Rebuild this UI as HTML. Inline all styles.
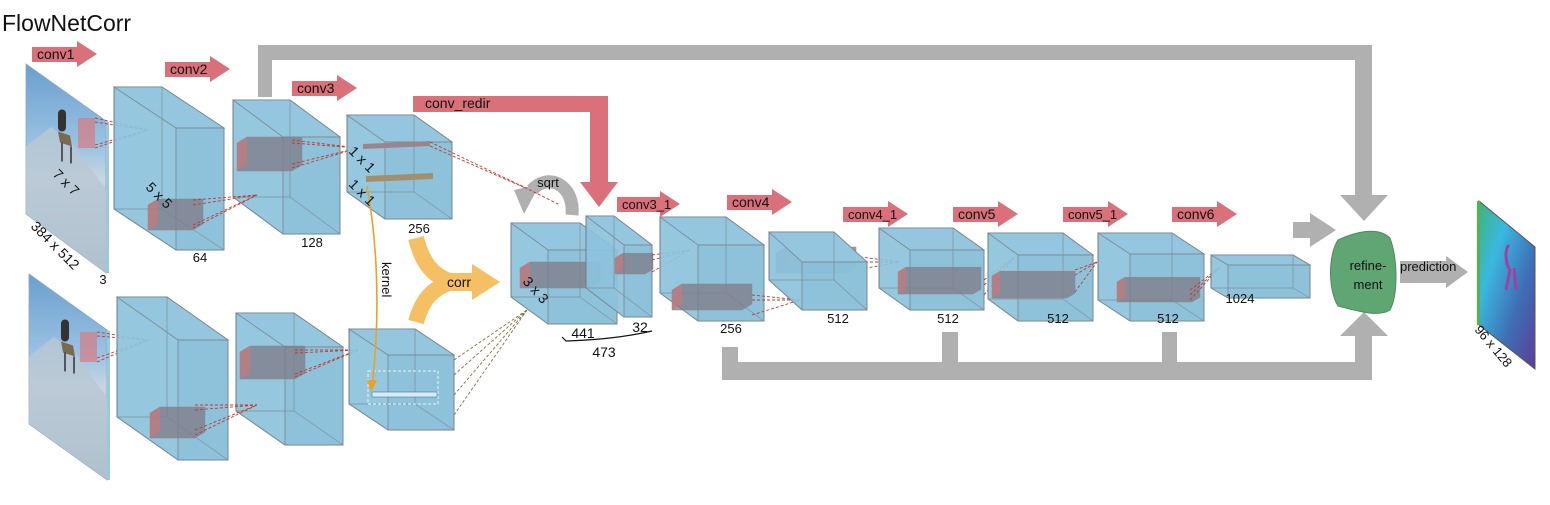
<!DOCTYPE html>
<html><head><meta charset="utf-8"><style>
html,body{margin:0;padding:0;background:#fff;}
svg{display:block;font-family:"Liberation Sans",Arial,sans-serif;}
</style></head><body>
<svg id="s" width="1550" height="505" viewBox="0 0 1550 505" xmlns="http://www.w3.org/2000/svg">
<defs>
<linearGradient id="img" x1="0" y1="0" x2="0" y2="1">
<stop offset="0" stop-color="#6a9fd0"/><stop offset="0.4" stop-color="#9cc3e3"/><stop offset="0.55" stop-color="#c8d6e0"/><stop offset="1" stop-color="#7f97a8"/></linearGradient>
<linearGradient id="flow" x1="0" y1="0" x2="1" y2="1">
<stop offset="0" stop-color="#3fb37a"/><stop offset="0.3" stop-color="#3ab8e0"/><stop offset="0.65" stop-color="#3e6fb5"/><stop offset="1" stop-color="#5a3e96"/></linearGradient>
</defs>
<text x="2" y="31" font-size="23" fill="#111">FlowNetCorr</text>
<g id="g"></g>
</svg>
<script>
var o='';
function cube(fx,fy,w,h,dx,dy){
 var bx=fx+dx,by=fy+dy;
 o+='<polygon points="'+[bx,by,bx+w,by,fx+w,fy,fx+w,fy+h,fx,fy+h,bx,by+h].join(',')+'" fill="#8cc2dc" fill-opacity="0.92" stroke="#6f7c84" stroke-width="1"/>';
 o+='<polygon points="'+[bx,by,bx+w,by,fx+w,fy,fx,fy].join(',')+'" fill="#94c7df" stroke="#7a868d" stroke-width="0.8"/>';
 o+='<rect x="'+fx+'" y="'+fy+'" width="'+w+'" height="'+h+'" fill="#88bdd7" fill-opacity="0.5" stroke="#7a868d" stroke-width="0.8"/>';
 o+='<path d="M'+bx+' '+by+'L'+fx+' '+fy+'M'+bx+' '+(by+h)+'L'+fx+' '+(fy+h)+'M'+(bx+w)+' '+by+'V'+(by+h)+'H'+bx+'M'+(bx+w)+' '+(by+h)+'L'+(fx+w)+' '+(fy+h)+'" stroke="#7f8f98" stroke-width="0.7" fill="none"/>';
}
function slab(x,y,w,h,d){
 o+='<polygon points="'+[x,y,x+d,y-d*0.6,x+d+w,y-d*0.6,x+d+w,y+h-d*0.6,x+w,y+h,x,y+h].join(',')+'" fill="#7f7a86" fill-opacity="0.75" stroke="#888" stroke-width="0.5"/>';
 o+='<polygon points="'+[x,y,x+d,y-d*0.6,x+d,y+h-d*0.6,x,y+h].join(',')+'" fill="#c07b80" fill-opacity="0.8"/>';
}
function dash(pts,tx,ty,c){for(var i=0;i<pts.length;i+=2)o+='<line x1="'+pts[i]+'" y1="'+pts[i+1]+'" x2="'+tx+'" y2="'+ty+'" stroke="'+(c||'#c0392b')+'" stroke-width="0.9" stroke-dasharray="3,2"/>';}
function rarrow(x,y,w,label,fs){
 o+='<polygon points="'+[x,y+2,x+w-20,y+2,x+w-20,y-4,x+w,y+9,x+w-20,y+22,x+w-20,y+17,x,y+17].join(',')+'" fill="#d9707a"/>';
 o+='<text x="'+(x+5)+'" y="'+(y+14)+'" font-size="'+(fs||14)+'" fill="#111">'+label+'</text>';
}
function txt(x,y,t,fs,rot,anch){o+='<text x="'+x+'" y="'+y+'" font-size="'+(fs||14)+'" fill="#111" text-anchor="'+(anch||'middle')+'"'+(rot?' transform="rotate('+rot+' '+x+' '+y+')"':'')+'>'+t+'</text>';}
var G='#b0b0b0';
o+='<path d="M258 97V45H1372V195H1388L1364 221L1340 195H1355V60H272V97Z" fill="'+G+'"/>';
o+='<path d="M722 380V347H738V362H942V332H958V362H1162V332H1177V362H1355V336H1340L1364 312L1388 336H1372V380Z" fill="'+G+'"/>';
function image(x1,y1,x2,y2,h1,h2){
 o+='<polygon points="'+[x1,y1,x2,y2,x2,y2+h2,x1,y1+h1].join(',')+'" fill="url(#img)" stroke="#8ab" stroke-width="0.8"/>';
 o+='<polygon points="'+[x2,y2,x2+3,y2+1,x2+3,y2+h2,x2,y2+h2].join(',')+'" fill="#9cc8de"/>';
 o+='<polygon points="'+[x1,y1+h1*0.55,x1+25,y1+h1*0.42,x1+45,y1+h1*0.52,x2,y2+h2*0.45,x2,y2+h2,x1,y1+h1].join(',')+'" fill="#b9c8d3" opacity="0.85"/>';
 var cx=x1+36,cy=y1+(h1*0.45);
 o+='<rect x="'+(cx-4)+'" y="'+(cy-22)+'" width="8" height="22" rx="4" fill="#333"/><polygon points="'+[cx-4,cy,cx+8,cy+4,cx+10,cy+15,cx-2,cy+11].join(',')+'" fill="#7a6a50"/><line x1="'+cx+'" y1="'+(cy+11)+'" x2="'+cx+'" y2="'+(cy+30)+'" stroke="#333" stroke-width="1.5"/><line x1="'+(cx+9)+'" y1="'+(cy+15)+'" x2="'+(cx+9)+'" y2="'+(cy+32)+'" stroke="#333" stroke-width="1.5"/>';
}
image(26,64,106,121,150,152);
image(29,274,107,330,150,150);
o+='<rect x="78" y="118" width="17" height="30" fill="#d97a80" fill-opacity="0.7"/>';
o+='<rect x="80" y="332" width="17" height="30" fill="#d97a80" fill-opacity="0.7"/>';
dash([95,118,95,122,95,145,95,148],148,130);
dash([97,332,97,336,97,358,97,362],148,340);
cube(176,128,48,122,-62,-41); slab(148,205,45,25,10);
cube(283,137,57,97,-50,-37); slab(237,143,55,28,10);
dash([193,200,193,205,193,225,193,228],257,195);
dash([292,140,292,143,292,164,292,168],358,148);
cube(385,142,67,77,-38,-27);
o+='<polygon points="363,144 430,141 430,146 363,149" fill="#9b858c"/><polygon points="366,176 433,173 433,179 366,182" fill="#a38f6e"/>';
dash([430,142,430,146],530,190);
cube(178,340,50,120,-61,-43); slab(150,413,45,25,10);
cube(285,347,58,98,-49,-34); slab(240,352,55,27,10);
dash([195,405,195,410,195,430,195,435],257,405);
dash([295,350,295,353,295,374,295,377],358,350);
cube(388,355,66,75,-39,-26);
o+='<rect x="368" y="371" width="70" height="33" fill="none" stroke="#e8f4fa" stroke-dasharray="3,2"/><rect x="372" y="392" width="65" height="5" fill="#dde8f0" stroke="#2e7fb0" stroke-width="0.6"/>';
dash([454,360,454,375,454,395,454,415],527,310,'#8a6d3b');
o+='<path d="M367 186 C375 230 382 300 372 388" stroke="#f0a020" stroke-width="1.6" fill="none"/><polygon points="367,380 377,380 371,392" fill="#f0a020"/>';
txt(382,262,'kernel',13,90,'start');
// corr
o+='<path d="M416 238 C422 262 432 276 452 282 M416 322 C422 300 432 288 452 282" stroke="#f5bf63" stroke-width="16" fill="none"/>';
o+='<path d="M448 273H472V264L500 282L472 300V291H448Z" fill="#f5bf63"/>';
txt(459,287,'corr',14);
cube(548,250,69,74,-37,-27); slab(520,268,70,20,10);
cube(624,245,28,72,-38,-29); slab(615,258,30,16,8);
dash([652,255,652,260,652,272],690,250);
txt(522,282,'3 x 3',14,48,'start');
o+='<path d="M562 337 L566 341 C600 340 630 336 652 331" stroke="#111" fill="none" stroke-width="1.2"/>';
txt(583,338,'441',14); txt(640,332,'32',14); txt(604,357,'473',14);
o+='<path d="M572 215 C575 185 548 172 532 190" stroke="'+G+'" stroke-width="13" fill="none"/><polygon points="514,190 540,184 524,214" fill="'+G+'"/>';
txt(548,187,'sqrt',13);
dash([520,185],560,205);
o+='<path d="M413 96H608V182H618L599 207L580 182H590V112H413Z" fill="#d9707a"/>';
o+='<text x="425" y="108" font-size="14" fill="#111">conv_redir</text>';
cube(698,245,66,76,-38,-28); slab(672,290,70,20,10); slab(776,253,70,20,10);
dash([752,295,752,300,752,315],800,300); dash([845,255,845,262,845,272],900,262);
cube(802,262,65,48,-33,-30);
cube(910,250,74,60,-31,-22); slab(898,272,75,22,8);
dash([984,280,984,285,984,295],1015,257);
cube(1018,255,75,66,-30,-22); slab(992,276,75,22,8);
dash([1075,270,1075,275,1075,292],1097,262);
cube(1130,254,74,67,-32,-21); slab(1117,282,75,20,8);
dash([1190,290,1190,295,1190,300],1220,267);
cube(1228,265,82,33,-17,-10);
txt(1240,303,'1024',13);
o+='<path d="M1293 222H1310V213L1336 230L1310 247V238H1293Z" fill="'+G+'"/>';
o+='<path d="M1338 240 C1355 232 1378 226 1390 238 C1398 260 1398 295 1390 310 C1378 318 1355 310 1338 306 C1328 290 1328 255 1338 240Z" fill="#5fa673" stroke="#4d8a5f"/>';
txt(1368,270,'refine-',13); txt(1368,289,'ment',13);
o+='<path d="M1400 261H1446V256L1468 272L1446 288V283H1400Z" fill="'+G+'"/>';
o+='<text x="1400" y="271" font-size="13" fill="#111">prediction</text>';
o+='<polygon points="1479,201 1535,247 1535,369 1479,325" fill="url(#flow)" stroke="#555" stroke-width="1"/><polygon points="1477,201 1480,201 1480,325 1477,325" fill="#4fb54f"/><path d="M1509 245 C1504 250 1506 265 1510 270 L1506 290 M1514 268 L1516 290" stroke="#a040a0" stroke-width="3" fill="none"/>';
txt(1474,330,'96 x 128',13,50,'start');
rarrow(32,45,65,'conv1'); rarrow(165,60,65,'conv2'); rarrow(292,79,65,'conv3');
rarrow(617,195,63,'conv3_1',13); rarrow(727,193,65,'conv4'); rarrow(843,205,65,'conv4_1',13);
rarrow(953,205,65,'conv5'); rarrow(1063,205,65,'conv5_1',13); rarrow(1172,205,65,'conv6');
txt(52,175,'7 x 7',14,45,'start'); txt(145,188,'5 x 5',14,45,'start');
txt(348,152,'1 x 1',14,45,'start'); txt(348,185,'1 x 1',14,45,'start');
txt(30,227,'384 x 512',14,45,'start'); txt(103,284,'3',13);
txt(200,262,'64',13); txt(312,247,'128',13); txt(419,233,'256',13);
txt(731,333,'256',13); txt(838,323,'512',13); txt(948,323,'512',13); txt(1058,323,'512',13); txt(1168,323,'512',13);
document.getElementById('g').innerHTML=o;
</script>
</body></html>
